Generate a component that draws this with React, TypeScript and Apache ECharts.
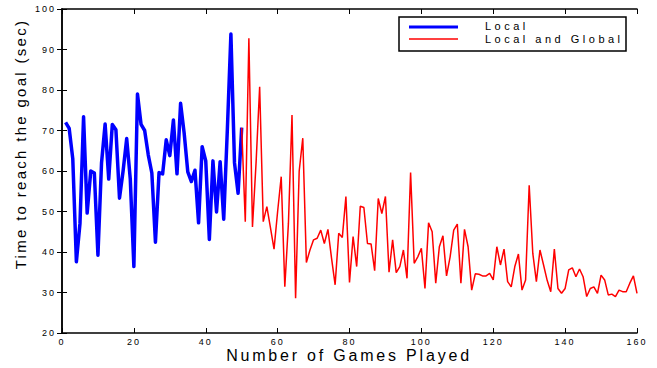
import React, { useEffect, useRef } from "react";
import * as echarts from "echarts";

// ---- data ----
const seriesNames = ["Local", "Local and Global"];
const xAxisTitle = "Number of Games Played";
const yAxisTitle = "Time to reach the goal (sec)";

const xMin = 0;
const xMax = 160;
const xStep = 20;
const yMin = 20;
const yMax = 100;
const yStep = 10;

// games 1..50
const localStartGame = 1;
const localTimes = [
  72, 70.5, 63, 37.6, 47, 73.4, 49.6, 60, 59.5, 39.2,
  62, 71.6, 58, 71.5, 70.2, 53.3, 60, 68, 58, 36.4,
  79, 71.5, 70, 64, 59.5, 42.4, 59.6, 59.3, 67.7, 63.8,
  72.6, 59.3, 76.7, 69.3, 59.8, 57.4, 60.2, 47.2, 66, 62.5,
  43.1, 62.5, 49.9, 62.3, 48.1, 70, 93.8, 62, 54.5, 70.7,
];

// games 50..160
const globalStartGame = 50;
const globalTimes = [
  70.7, 47.5, 92.8, 46.2, 62, 80.8, 47.5, 51.2, 46, 40.7,
  50, 58.6, 31.4, 47, 73.8, 28.6, 60, 68.1, 37.4, 40.5,
  43, 43.4, 45.4, 42.1, 45.6, 38.5, 31.9, 44.6, 43.6, 53.7,
  32.5, 43.8, 36.4, 51.3, 51, 42.1, 42, 35.4, 53.2, 49.5,
  53.7, 35, 43, 34.9, 36.4, 40.5, 33.5, 59.6, 37.2, 38.8,
  40.9, 31, 47.2, 45, 32.3, 41.3, 44, 34.1, 38.8, 45.4,
  46.9, 32.3, 45.6, 41.3, 30.6, 34.6, 34.5, 34.1, 34.1, 34.7,
  33.1, 41.3, 36.8, 40.7, 32.7, 31.4, 36.4, 39.5, 30.6, 33.1,
  56.5, 39.7, 32.7, 40.5, 36.8, 33, 30.2, 40.7, 31, 29.8,
  31, 35.6, 36.1, 33.9, 35.8, 33.9, 29, 31, 31.4, 29.8,
  34.3, 33.1, 29.4, 29.6, 29, 30.6, 30.2, 30.2, 32.3, 34.1,
  29.8,
];

const toPairs = (start: number, vals: number[]) =>
  vals.map((v, i) => [start + i, v]);

const FONT = "'Liberation Sans', Arial, Helvetica, sans-serif";

export default function App() {
  const ref = useRef<HTMLDivElement | null>(null);

  useEffect(() => {
    if (!ref.current) return;
    const chart = echarts.init(ref.current, undefined, { renderer: "svg" });

    const axisLine = { show: true, lineStyle: { color: "#000", width: 1.5 } };
    const tickIn = { show: true, inside: true, length: 5, lineStyle: { color: "#000", width: 1 } };

    const option: any = {
      animation: false,
      backgroundColor: "#fff",
      grid: {
        left: 62,
        right: 20,
        top: 9,
        bottom: 35,
        containLabel: false,
        outerBoundsMode: "none",
      },
      xAxis: [
        {
          type: "value",
          min: xMin,
          max: xMax,
          interval: xStep,
          axisLine,
          axisTick: tickIn,
          splitLine: { show: false },
          axisLabel: {
            color: "#000",
            fontSize: 9,
            fontFamily: FONT,
            margin: 4,
          },
        },
        {
          type: "value",
          position: "top",
          min: xMin,
          max: xMax,
          interval: xStep,
          axisLine,
          axisTick: tickIn,
          splitLine: { show: false },
          axisLabel: { show: false },
        },
      ],
      yAxis: [
        {
          type: "value",
          min: yMin,
          max: yMax,
          interval: yStep,
          axisLine,
          axisTick: tickIn,
          splitLine: { show: false },
          axisLabel: {
            color: "#000",
            fontSize: 9,
            fontFamily: FONT,
            margin: 6,
          },
        },
        {
          type: "value",
          position: "right",
          min: yMin,
          max: yMax,
          interval: yStep,
          axisLine,
          axisTick: tickIn,
          splitLine: { show: false },
          axisLabel: { show: false },
        },
      ],
      series: [
        {
          name: seriesNames[0],
          type: "line",
          xAxisIndex: 0,
          yAxisIndex: 0,
          data: toPairs(localStartGame, localTimes),
          showSymbol: false,
          symbol: "none",
          lineStyle: { color: "#0000ff", width: 3.5, join: "round" },
          itemStyle: { color: "#0000ff" },
          z: 2,
        },
        {
          name: seriesNames[1],
          type: "line",
          xAxisIndex: 0,
          yAxisIndex: 0,
          data: toPairs(globalStartGame, globalTimes),
          showSymbol: false,
          symbol: "none",
          lineStyle: { color: "#ff0000", width: 1.5 },
          itemStyle: { color: "#ff0000" },
          z: 3,
        },
      ],
      graphic: [
        {
          type: "text",
          x: 20,
          y: 144,
          rotation: Math.PI / 2,
          style: {
            text: yAxisTitle,
            fontSize: 15,
            fontFamily: FONT,
            fill: "#000",
            align: "center",
            verticalAlign: "middle",
          },
        },
        {
          type: "text",
          x: 349,
          y: 355,
          style: {
            text: xAxisTitle,
            fontSize: 16,
            fontFamily: FONT,
            fill: "#000",
            align: "center",
            verticalAlign: "middle",
          },
        },
        {
          type: "group",
          z: 100,
          children: [
            {
              type: "rect",
              shape: { x: 399, y: 17, width: 227, height: 34 },
              style: { fill: "#fff", stroke: "#000", lineWidth: 1.5 },
            },
            {
              type: "line",
              shape: { x1: 409, y1: 27, x2: 458, y2: 27 },
              style: { stroke: "#0000ff", lineWidth: 3 },
            },
            {
              type: "line",
              shape: { x1: 409, y1: 39, x2: 458, y2: 39 },
              style: { stroke: "#ff0000", lineWidth: 1.5 },
            },
            {
              type: "text",
              x: 485,
              y: 26.3,
              style: {
                text: seriesNames[0],
                fontSize: 11,
                fontFamily: FONT,
                fill: "#000",
                align: "left",
                verticalAlign: "middle",
              },
            },
            {
              type: "text",
              x: 485,
              y: 39.3,
              style: {
                text: seriesNames[1],
                fontSize: 11,
                fontFamily: FONT,
                fill: "#000",
                align: "left",
                verticalAlign: "middle",
              },
            },
          ],
        },
      ],
    };

    chart.setOption(option);
    return () => chart.dispose();
  }, []);

  return (
    <>
      <style>{`
        html, body { margin: 0; padding: 0; background: #fff; }
        .rs-chart text[style*="9px"] { letter-spacing: 2px; }
        .rs-chart text[style*="11px"] { letter-spacing: 3.5px; }
        .rs-chart text[style*="15px"] { letter-spacing: 2.3px; }
        .rs-chart text[style*="16px"] { letter-spacing: 2.8px; }
      `}</style>
      <div
        ref={ref}
        className="rs-chart"
        style={{ position: "fixed", left: 0, top: 0, width: 657, height: 368 }}
      />
    </>
  );
}
